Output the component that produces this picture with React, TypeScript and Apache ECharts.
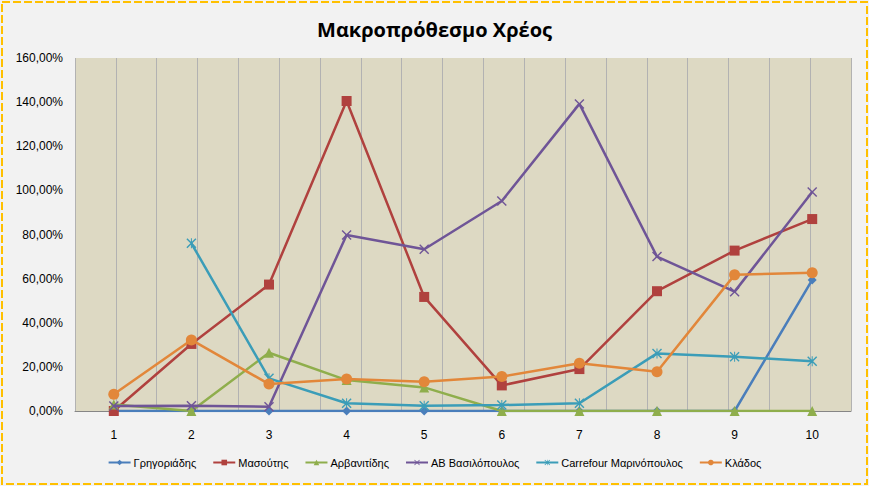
import React, { useEffect, useRef } from "react";
import * as echarts from "echarts";

const categories = ["1", "2", "3", "4", "5", "6", "7", "8", "9", "10"];
const gridCategories = Array.from({ length: 20 }, (_, i) => String(i));

const seriesNames = [
  "Γρηγοριάδης",
  "Μασούτης",
  "Αρβανιτίδης",
  "ΑΒ Βασιλόπουλος",
  "Carrefour Μαρινόπουλος",
  "Κλάδος",
];

const grigoriadis = [0, 0, 0, 0, 0, 0, 0, 0, 0, 59.4];
const masoutis = [0, 30.4, 57.3, 140.5, 51.7, 11.6, 19.0, 54.3, 72.7, 87.0];
const arvanitidis = [3.0, 0, 26.4, 14.0, 10.7, 0, 0, 0, 0, 0];
const abVasilopoulos = [2.3, 2.4, 1.9, 79.8, 73.3, 95.2, 139.2, 70.0, 54.1, 99.3];
const carrefour = [null, 76.0, 14.8, 3.5, 2.4, 2.7, 3.5, 26.1, 24.6, 22.5];
const kladous = [7.6, 32.2, 12.2, 14.5, 13.3, 15.6, 21.6, 17.8, 61.7, 62.7];

const yTicks = ["0,00%", "20,00%", "40,00%", "60,00%", "80,00%", "100,00%", "120,00%", "140,00%", "160,00%"];

const colors = ["#4A7EBB", "#B0413E", "#8FAE4C", "#6F5597", "#3B9DB8", "#E2873A"];

const X_PATH = "path://M0,1L1,0L5,4L9,0L10,1L6,5L10,9L9,10L5,6L1,10L0,9L4,5Z";
const STAR_PATH =
  "path://M0,1L1,0L5,4L9,0L10,1L6,5L10,9L9,10L5,6L1,10L0,9L4,5ZM4.5,0L5.5,0L5.5,10L4.5,10Z";

export default function App() {
  const ref = useRef<HTMLDivElement>(null);

  useEffect(() => {
    if (!ref.current) return;
    const chart = echarts.init(ref.current, null, { renderer: "svg" });
    const dataSets = [grigoriadis, masoutis, arvanitidis, abVasilopoulos, carrefour, kladous];
    const symbols = ["diamond", "rect", "triangle", X_PATH, STAR_PATH, "circle"];
    const sizes = [9, 10, 10, 10, 10, 11];
    const font = "Liberation Sans, Arial, sans-serif";
    const narrow = "Liberation Sans Narrow, Arial Narrow, Liberation Sans, sans-serif";

    chart.setOption({
      animation: false,
      backgroundColor: "#F2F2F2",
      textStyle: { fontFamily: font },
      title: {
        text: "Μακροπρόθεσμο Χρέος",
        left: "center",
        top: 14,
        textStyle: { fontSize: 20, fontWeight: "bold", color: "#000", fontFamily: "Open Sans, sans-serif" },
      },
      graphic: [
        {
          type: "rect",
          shape: { x: 2, y: 2, width: 865, height: 482 },
          style: { fill: "none", stroke: "#FFC000", lineWidth: 2, lineDash: [8, 3] },
          silent: true,
          z: 100,
        },
      ],
      legend: {
        bottom: 13,
        left: "center",
        itemWidth: 22,
        itemHeight: 7,
        itemGap: 16,
        textStyle: { fontSize: 11, color: "#000", fontFamily: narrow, padding: [0, 0, 0, -2] },
        data: seriesNames,
      },
      grid: {
        left: 75,
        right: 18,
        top: 58,
        bottom: 75,
        show: true,
        backgroundColor: "#DDD9C3",
        borderWidth: 0,
      },
      xAxis: [
        {
          type: "category",
          data: categories,
          boundaryGap: true,
          axisLine: { show: true, lineStyle: { color: "#868686", width: 1 } },
          axisTick: { show: false },
          axisLabel: { fontSize: 12, color: "#000", margin: 18 },
          splitLine: { show: false },
        },
        {
          type: "category",
          data: gridCategories,
          position: "bottom",
          boundaryGap: false,
          show: true,
          axisLine: { show: false },
          axisTick: { show: false },
          axisLabel: { show: false },
          splitLine: { show: true, interval: 0, lineStyle: { color: "#B2B2B2", width: 1 } },
        },
      ],
      yAxis: {
        type: "value",
        min: 0,
        max: 160,
        interval: 20,
        axisLine: { show: false },
        axisTick: { show: false },
        splitLine: { show: false },
        axisLabel: {
          fontSize: 12,
          color: "#000",
          margin: 12,
          formatter: (v: number) => yTicks[Math.round(v / 20)],
        },
      },
      series: seriesNames.map((name, i) => ({
        name,
        type: "line",
        xAxisIndex: 0,
        data: dataSets[i],
        symbol: symbols[i],
        symbolSize: sizes[i],
        showAllSymbol: true,
        color: colors[i],
        lineStyle: { width: 2.5, color: colors[i] },
        itemStyle: { color: colors[i] },
        z: 2 + i,
      })),
    });
    return () => chart.dispose();
  }, []);

  return (
    <div
      ref={ref}
      style={{ position: "fixed", left: 0, top: 0, width: 869, height: 486 }}
    />
  );
}
